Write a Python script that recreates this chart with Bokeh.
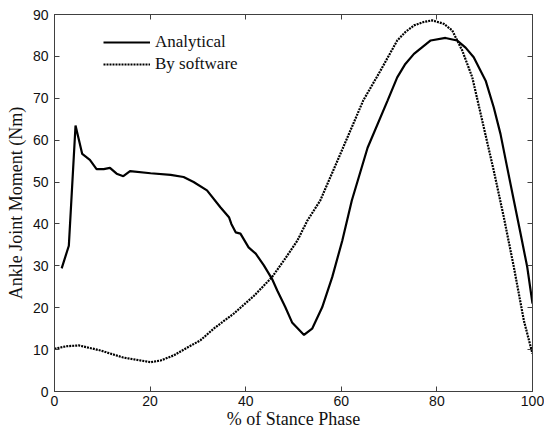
from bokeh.plotting import figure
from bokeh.models import Range1d, FixedTicker, LinearAxis, Legend, LegendItem
from bokeh.embed import file_html
from bokeh.resources import INLINE

# ---- data ----
analytical_x = [1.5, 3.0, 4.4, 5.8, 7.4, 8.8, 10.3, 11.6, 13.0, 14.4, 15.8, 20.1, 24.3, 27.0,
                29.1, 31.9, 34.7, 36.5, 37.0, 37.9, 38.9, 40.6, 42.1, 43.8, 45.5, 46.6, 48.3,
                49.7, 52.2, 53.9, 56.0, 58.1, 60.2, 62.2, 65.5, 69.7, 71.7, 73.4, 75.2, 78.7,
                81.8, 84.2, 86.0, 87.7, 90.2, 91.9, 93.3, 94.7, 96.1, 97.5, 98.9, 100.0]
analytical_y = [29.4, 34.8, 63.5, 56.7, 55.3, 53.1, 53.1, 53.4, 52.0, 51.4, 52.6, 52.1, 51.7, 51.2,
                50.0, 48.0, 44.0, 41.6, 40.0, 38.0, 37.7, 34.4, 32.9, 30.1, 26.9, 24.1, 20.1,
                16.5, 13.5, 15.0, 20.1, 27.3, 36.0, 45.6, 58.2, 69.5, 75.0, 78.2, 80.6, 83.8,
                84.4, 83.8, 82.1, 79.8, 74.2, 67.8, 61.5, 53.5, 45.6, 37.7, 29.7, 21.0]

software_x = [0.0, 2.5, 5.1, 9.6, 14.4, 20.1, 22.2, 24.9, 27.8, 30.5, 33.3, 37.5, 41.7, 45.5,
              48.0, 50.8, 52.9, 55.6, 59.2, 64.6, 68.2, 71.7, 73.4, 75.2, 77.2, 79.0, 81.4,
              83.2, 85.3, 87.4, 89.8, 91.9, 94.0, 96.1, 98.2, 100.0]
software_y = [10.2, 10.8, 11.0, 9.8, 8.1, 7.0, 7.4, 8.6, 10.5, 12.2, 15.0, 18.6, 22.8, 27.3,
              31.3, 36.0, 40.8, 45.6, 55.1, 69.5, 76.6, 83.8, 85.8, 87.4, 88.2, 88.6, 87.8,
              86.2, 81.4, 75.0, 63.1, 52.7, 41.6, 29.7, 16.9, 9.0]

x_ticks = [0, 20, 40, 60, 80, 100]
y_ticks = [0, 10, 20, 30, 40, 50, 60, 70, 80, 90]
series_labels = ["Analytical", "By software"]
x_title = "% of Stance Phase"
y_title = "Ankle Joint Moment (Nm)"

AX = "#404040"
SANS = "Liberation Sans"
SERIF = "Liberation Serif"

p = figure(width=544, height=432, output_backend="svg", toolbar_location=None,
           x_range=Range1d(0, 100), y_range=Range1d(0, 90),
           min_border_left=54, min_border_right=12, min_border_top=14, min_border_bottom=41)
p.xgrid.visible = False
p.ygrid.visible = False
p.outline_line_color = AX
p.outline_line_width = 1
p.background_fill_color = "white"
p.border_fill_color = "white"

def style_axis(ax, ticks, show_labels):
    ax.ticker = FixedTicker(ticks=ticks)
    ax.axis_line_color = AX
    ax.major_tick_line_color = AX
    ax.major_tick_in = 5
    ax.major_tick_out = 0
    ax.minor_tick_line_color = None
    if show_labels:
        ax.major_label_text_font = SANS
        ax.major_label_text_font_size = "14px"
        ax.major_label_text_color = "#111111"
    else:
        ax.major_label_overrides = {t: "" for t in ticks}
        ax.major_label_text_font_size = "1px"
        ax.major_label_standoff = 0

xa = p.xaxis[0]
ya = p.yaxis[0]
style_axis(xa, x_ticks, True)
style_axis(ya, y_ticks, True)
xa.major_label_standoff = 4
ya.major_label_standoff = 6
xa.axis_label = x_title
ya.axis_label = y_title
for a in (xa, ya):
    a.axis_label_text_font = SERIF
    a.axis_label_text_font_size = "18px"
    a.axis_label_text_font_style = "normal"
    a.axis_label_text_color = "#111111"
xa.axis_label_standoff = 0
ya.axis_label_standoff = 4

top = LinearAxis()
style_axis(top, x_ticks, False)
p.add_layout(top, "above")
right = LinearAxis()
style_axis(right, y_ticks, False)
p.add_layout(right, "right")

r1 = p.line(analytical_x, analytical_y, line_color="black", line_width=2.2)
r2 = p.line(software_x, software_y, line_color="black", line_width=2.2, line_dash="2 1")

legend = Legend(items=[LegendItem(label=series_labels[0], renderers=[r1]),
                       LegendItem(label=series_labels[1], renderers=[r2])],
                location=(49, 317), border_line_color=None, background_fill_alpha=0,
                glyph_width=47, glyph_height=20, label_height=20, label_standoff=5,
                padding=0, spacing=2, margin=0,
                label_text_font=SERIF, label_text_font_size="17px", label_text_color="#111111")
p.add_layout(legend)

open("out.html", "w").write(file_html(p, INLINE))
